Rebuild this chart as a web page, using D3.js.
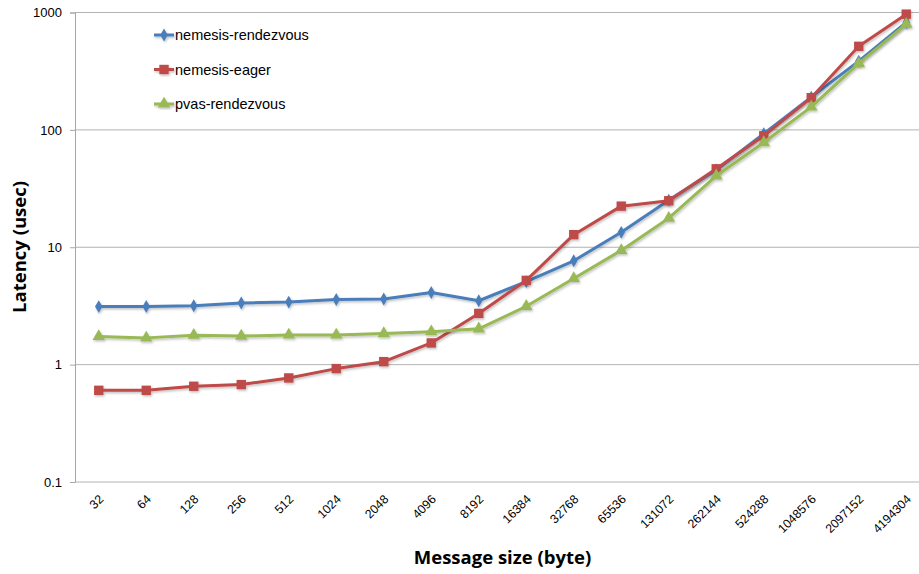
<!DOCTYPE html>
<html><head><meta charset="utf-8">
<script src="https://cdn.jsdelivr.net/npm/d3@7"></script>
<style>body{margin:0;background:#fff}svg{display:block}</style>
</head><body>
<script>
const categories = ["32","64","128","256","512","1024","2048","4096","8192","16384","32768","65536","131072","262144","524288","1048576","2097152","4194304"];
const nemesisRendezvous = [3.12,3.13,3.17,3.35,3.41,3.59,3.62,4.12,3.5,5.1,7.67,13.4,25.2,45.5,93,190,385,822];
const nemesisEager = [0.604,0.604,0.654,0.676,0.77,0.925,1.06,1.53,2.73,5.22,12.8,22.4,24.9,46.6,89,188,515,968];
const pvasRendezvous = [1.74,1.69,1.78,1.75,1.79,1.79,1.84,1.91,2.02,3.14,5.42,9.4,17.7,40.6,78,157,368,795];
const yTicks = [0.1,1,10,100,1000];
const seriesNames = ["nemesis-rendezvous","nemesis-eager","pvas-rendezvous"];
const seriesColors = ["#4a7ebb","#be4b48","#98b954"];
const seriesShapes = ["diamond","square","triangle"];

(function(){
const W=919,H=574;
const svg=d3.select("body").append("svg").attr("width",W).attr("height",H);
const mLeft=75, mRight=930, mTop=12.5, mBottom=482;
const x=d3.scalePoint().domain(categories).range([mLeft,mRight]).padding(0.5);
const y=d3.scaleLog().domain([0.1,1000]).range([mBottom,mTop]);

const defs=svg.append("defs");
const f=defs.append("filter").attr("id","sh").attr("x","-20%").attr("y","-20%").attr("width","140%").attr("height","140%");
f.append("feDropShadow").attr("dx",1).attr("dy",1.5).attr("stdDeviation",1).attr("flood-color","#000").attr("flood-opacity",0.25);

svg.append("g").selectAll("line").data(yTicks.filter(d=>d>0.1)).join("line")
 .attr("x1",mLeft).attr("x2",W).attr("y1",d=>y(d)).attr("y2",d=>y(d))
 .attr("stroke","#b3b3b3").attr("stroke-width",1);

const ya=svg.append("g").attr("transform",`translate(${mLeft},0)`)
 .call(d3.axisLeft(y).tickValues(yTicks).tickFormat(d=>String(d)).tickSize(5).tickPadding(8));
ya.select(".domain").attr("stroke","#a6a6a6");
ya.selectAll(".tick line").attr("stroke","#a6a6a6");
ya.selectAll("text").attr("font-family","Liberation Sans, Arial, sans-serif").attr("font-size",13).attr("fill","#000");

const xa=svg.append("g").attr("transform",`translate(0,${mBottom})`)
 .call(d3.axisBottom(x).tickSize(0).tickPadding(0));
xa.select(".domain").attr("stroke","#b3b3b3").attr("d",`M${mLeft},0H${W}`);
xa.selectAll("text").attr("font-family","Liberation Sans, Arial, sans-serif").attr("font-size",12.3).attr("fill","#000")
 .attr("text-anchor","end").attr("dy",0).attr("y",0)
 .attr("transform","translate(5,18) rotate(-45)");

const sym={diamond:d3.symbol(d3.symbolDiamond,48),square:d3.symbol(d3.symbolSquare,88),triangle:d3.symbol(d3.symbolTriangle,68)};
const data=[nemesisRendezvous,nemesisEager,pvasRendezvous];
const line=d3.line().x((d,i)=>x(categories[i])).y(d=>y(d));
data.forEach((vals,k)=>{
  const g=svg.append("g").attr("filter","url(#sh)");
  g.append("path").attr("d",line(vals)).attr("fill","none").attr("stroke",seriesColors[k]).attr("stroke-width",3).attr("stroke-linejoin","round");
  g.selectAll("path.m").data(vals).join("path").attr("class","m")
   .attr("d",sym[seriesShapes[k]]).attr("transform",(d,i)=>`translate(${x(categories[i])},${y(d)})`)
   .attr("fill",seriesColors[k]);
});

const lg=svg.append("g");
seriesNames.forEach((n,k)=>{
  const yy=35+k*34.5;
  const g=lg.append("g").attr("filter","url(#sh)");
  g.append("line").attr("x1",154).attr("x2",174).attr("y1",yy).attr("y2",yy).attr("stroke",seriesColors[k]).attr("stroke-width",3);
  g.append("path").attr("d",sym[seriesShapes[k]]).attr("transform",`translate(164,${yy})`).attr("fill",seriesColors[k]);
  lg.append("text").attr("x",175).attr("y",yy+5).text(n)
   .attr("font-family","Liberation Sans, Arial, sans-serif").attr("font-size",14.5).attr("fill","#000");
});

svg.append("text").attr("transform","translate(26,247) rotate(-90)").attr("text-anchor","middle")
 .attr("font-family","Open Sans, Liberation Sans, sans-serif").attr("font-weight","bold").attr("font-size",18.5).text("Latency (usec)");
svg.append("text").attr("x",502.5).attr("y",564).attr("text-anchor","middle")
 .attr("font-family","Open Sans, Liberation Sans, sans-serif").attr("font-weight","bold").attr("font-size",18.5).text("Message size (byte)");
})();
</script>
</body></html>
